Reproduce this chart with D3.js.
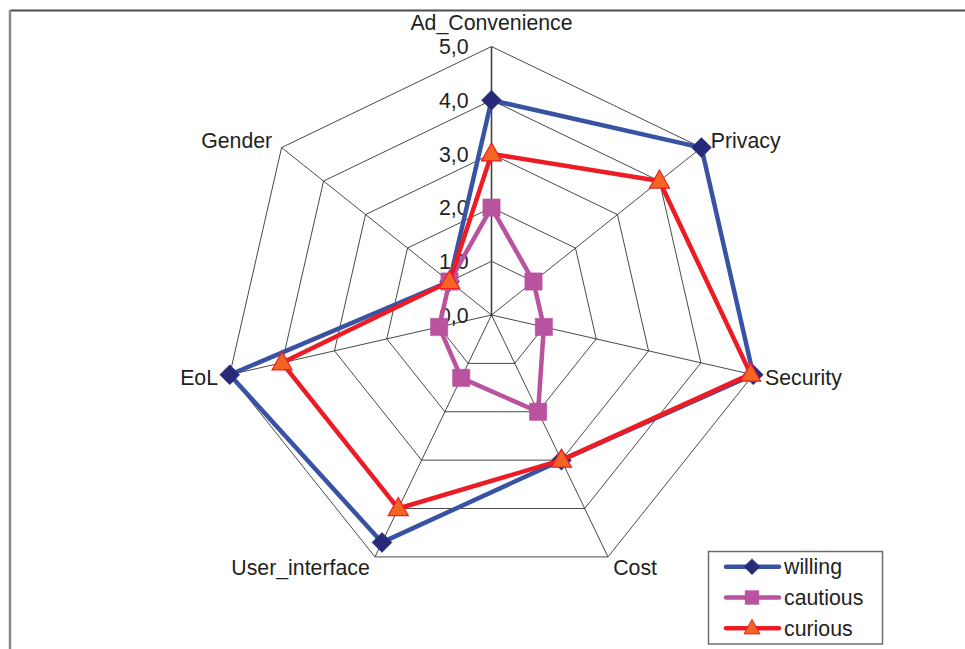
<!DOCTYPE html>
<html>
<head>
<meta charset="utf-8">
<script src="https://cdn.jsdelivr.net/npm/d3@7/dist/d3.min.js"></script>
<style>
  html, body { margin: 0; padding: 0; background: #fff; }
  svg { display: block; }
  text { font-family: "Liberation Sans", Arial, sans-serif; fill: #231f20; }
</style>
</head>
<body>
<svg id="chart" width="965" height="649"></svg>
<script>
const axes = ["Ad_Convenience", "Privacy", "Security", "Cost", "User_interface", "EoL", "Gender"];
const willing  = [4.0, 5.0, 5.0, 3.0, 4.7, 5.0, 1.0];
const cautious = [2.0, 1.0, 1.0, 2.0, 1.3, 1.0, 1.0];
const curious  = [3.0, 4.0, 4.95, 3.0, 4.0, 4.0, 1.0];
const seriesNames = ["willing", "cautious", "curious"];
const tickValues = [0, 1, 2, 3, 4, 5];

const svg = d3.select("#chart");
const W = 965, H = 649;
const cx = 491.5, cy = 315, R = 268.5;
const FS = 21.3;

// outer frame
svg.append("line").attr("x1", 10).attr("y1", 10.5).attr("x2", W).attr("y2", 10.5)
  .attr("stroke", "#4d4d4d").attr("stroke-width", 2);
svg.append("line").attr("x1", 10).attr("y1", 10).attr("x2", 10).attr("y2", H)
  .attr("stroke", "#8a8a8a").attr("stroke-width", 2.5);

const r = d3.scaleLinear().domain([0, 5]).range([0, R]);
const ang = d3.scaleLinear().domain([0, axes.length]).range([0, 2 * Math.PI]);
const pt = (i, v) => [cx + r(v) * Math.sin(ang(i)), cy - r(v) * Math.cos(ang(i))];

const g = svg.append("g");

// rings
tickValues.filter(v => v > 0).forEach(v => {
  g.append("polygon")
    .attr("points", axes.map((a, i) => pt(i, v).join(",")).join(" "))
    .attr("fill", "none").attr("stroke", "#1a1a1a").attr("stroke-width", 0.8);
});
// spokes
axes.forEach((a, i) => {
  const [x, y] = pt(i, 5);
  g.append("line").attr("x1", cx).attr("y1", cy).attr("x2", x).attr("y2", y)
    .attr("stroke", i === 0 ? "#444" : "#1a1a1a").attr("stroke-width", i === 0 ? 1.6 : 0.8);
});

// tick labels
const loc = d3.formatLocale({decimal: ",", thousands: ".", grouping: [3], currency: ["", ""]});
const fmt = loc.format(".1f");
tickValues.forEach(v => {
  g.append("text").attr("x", cx - 23).attr("y", cy - r(v)).attr("dy", "0.36em")
    .attr("text-anchor", "end").attr("font-size", FS).text(fmt(v));
});

// axis labels
axes.forEach((a, i) => {
  const s = Math.sin(ang(i));
  const off = 12 + (Math.abs(s) < 0.1 ? 12 : 0);
  const x = cx + (R + off) * s;
  const y = cy - (R + off) * Math.cos(ang(i));
  g.append("text").attr("x", x).attr("y", y).attr("dy", "0.35em")
    .attr("text-anchor", s > 0.1 ? "start" : (s < -0.1 ? "end" : "middle"))
    .attr("font-size", FS).text(a);
});

const styles = {
  willing:  {line: "#3953a4", marker: "diamond", fill: "#262a78", stroke: "#262a78", size: 150},
  cautious: {line: "#b9529f", marker: "square", fill: "#b9529f", stroke: "#b9529f", size: 300},
  curious:  {line: "#ed1c24", marker: "triangle", fill: "#f26522", stroke: "#ed1c24", size: 210}
};
const symType = {diamond: d3.symbolDiamond2, square: d3.symbolSquare, triangle: d3.symbolTriangle};
const markerPath = (name) => {
  const st = styles[name];
  if (st.marker === "diamond") {
    const s = 10;
    return `M0,${-s}L${s},0L0,${s}L${-s},0Z`;
  }
  if (st.marker === "triangle") {
    return "M0,-11L10,7L-10,7Z";
  }
  return d3.symbol().type(symType[st.marker]).size(st.size)();
};

const dataBy = {willing, cautious, curious};
const lineGen = d3.line().curve(d3.curveLinearClosed);

seriesNames.forEach(name => {
  const vals = dataBy[name];
  const st = styles[name];
  const pts = vals.map((v, i) => pt(i, v));
  g.append("path").attr("d", lineGen(pts)).attr("fill", "none")
    .attr("stroke", st.line).attr("stroke-width", 4.5).attr("stroke-linejoin", "round");
  g.selectAll(null).data(pts).enter().append("path")
    .attr("transform", d => `translate(${d[0]},${d[1]})`)
    .attr("d", markerPath(name))
    .attr("fill", st.fill).attr("stroke", st.stroke).attr("stroke-width", name === "curious" ? 1.2 : 0.5);
});

// legend
const lg = svg.append("g");
lg.append("rect").attr("x", 708.5).attr("y", 551.5).attr("width", 174).attr("height", 92.5)
  .attr("fill", "#fff").attr("stroke", "#6d6e71").attr("stroke-width", 1.5);
seriesNames.forEach((name, k) => {
  const st = styles[name];
  const y = 566.7 + k * 30.8;
  lg.append("line").attr("x1", 726).attr("x2", 779).attr("y1", y).attr("y2", y)
    .attr("stroke", st.line).attr("stroke-width", 4.5).attr("stroke-linecap", "round");
  lg.append("path").attr("transform", `translate(752,${y}) scale(0.8)`)
    .attr("d", markerPath(name)).attr("fill", st.fill).attr("stroke", st.stroke)
    .attr("stroke-width", name === "curious" ? 1.2 : 0.5);
  lg.append("text").attr("x", 784).attr("y", y).attr("dy", "0.35em").attr("font-size", FS).text(name);
});
</script>
</body>
</html>
